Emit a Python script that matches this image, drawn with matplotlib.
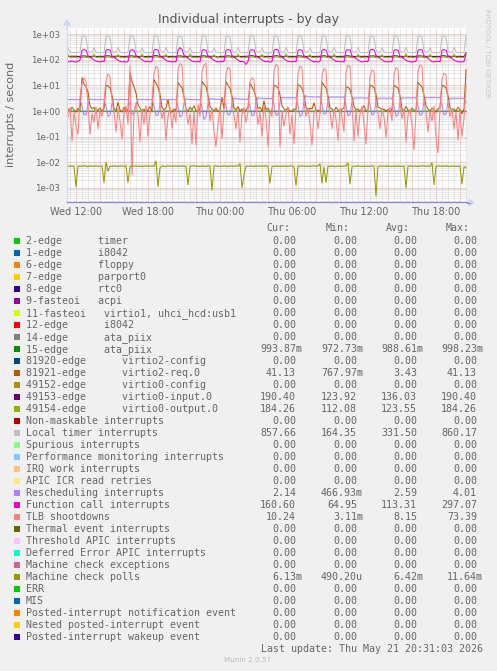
import numpy as np
import matplotlib
matplotlib.use('Agg')
import matplotlib.pyplot as plt
import matplotlib.transforms as mtransforms
from matplotlib.patches import Rectangle, Polygon
from matplotlib.ticker import FixedLocator, FuncFormatter, NullFormatter

# ---------------- data (10-minute samples starting Wed 11:20) ----------------
t_start = 11 + 20 / 60.0
t_step = 1 / 6.0

ata_piix_15 = [
    0.989, 0.991, 0.986, 0.990, 0.988, 0.992, 0.987,
    0.985, 0.982, 0.987, 0.990, 0.989, 0.991, 0.988, 0.990, 0.987, 0.992, 0.989, 0.990,
    0.984, 0.980, 0.988, 0.991, 0.990, 0.987, 0.989, 0.992, 0.988, 0.990, 0.986, 0.991,
    0.986, 0.983, 0.989, 0.990, 0.992, 0.988, 0.990, 0.987, 0.991, 0.989, 0.990, 0.988,
    0.983, 0.9727, 0.986, 0.989, 0.991, 0.990, 0.988, 0.992, 0.989, 0.987, 0.990, 0.991,
    0.985, 0.981, 0.988, 0.990, 0.989, 0.992, 0.987, 0.990, 0.991, 0.988, 0.989, 0.990,
    0.984, 0.982, 0.987, 0.991, 0.990, 0.988, 0.9982, 0.989, 0.987, 0.990, 0.992, 0.988,
    0.986, 0.980, 0.989, 0.990, 0.988, 0.991, 0.989, 0.987, 0.992, 0.990, 0.988, 0.991,
    0.985, 0.983, 0.988, 0.989, 0.992, 0.990, 0.987, 0.991, 0.989, 0.988, 0.990, 0.989,
    0.984, 0.981, 0.987, 0.990, 0.989, 0.991, 0.988, 0.992, 0.990, 0.987, 0.989, 0.991,
    0.986, 0.982, 0.989, 0.991, 0.988, 0.990, 0.989, 0.987, 0.991, 0.990, 0.988, 0.992,
    0.985, 0.980, 0.988, 0.990, 0.991, 0.989, 0.990, 0.988, 0.987, 0.992, 0.990, 0.989,
    0.983, 0.982, 0.987, 0.989, 0.990, 0.992, 0.988, 0.991, 0.989, 0.990, 0.987, 0.990,
    0.985, 0.981, 0.988, 0.991, 0.989, 0.988, 0.990, 0.992, 0.990, 0.989, 0.991, 0.988,
    0.984, 0.983, 0.986, 0.990, 0.992, 0.990, 0.987, 0.989, 0.991, 0.988, 0.990, 0.989,
    0.986, 0.980, 0.989, 0.990, 0.988, 0.991, 0.990, 0.987, 0.989, 0.992, 0.988, 0.990,
    0.985, 0.982, 0.987, 0.991, 0.990, 0.989, 0.988, 0.990, 0.991, 0.989, 0.987, 0.990,
    0.99387,
]

virtio2_req = [
    1.2, 0.95, 1.4, 1.1, 0.9, 1.3, 1.0,
    20, 11, 9, 5.5, 1.6, 1.2, 1.4, 0.9, 1.1, 1.3, 0.95, 1.2,
    10, 9.5, 8, 4, 1.3, 1.0, 2.2, 1.1, 0.9, 1.4, 1.0, 1.15,
    31, 14, 9, 5, 1.8, 1.3, 1.0, 1.2, 0.85, 1.1, 1.5, 1.0,
    17, 12, 8.5, 4.5, 1.4, 1.1, 1.3, 2.8, 1.0, 0.9, 1.2, 1.05,
    12.8, 10, 8, 3.5, 1.2, 1.0, 1.4, 1.1, 1.6, 1.0, 0.9, 1.3,
    14, 11, 9, 4, 1.5, 1.2, 1.0, 1.3, 0.95, 1.1, 3.5, 1.2,
    14, 10.5, 7.5, 3.8, 1.3, 1.1, 1.5, 1.0, 1.2, 0.9, 1.1, 1.4,
    12, 9, 6, 3.5, 1.2, 1.4, 1.0, 2.5, 1.1, 1.3, 0.9, 1.0,
    10, 9.5, 8, 4.2, 1.6, 1.2, 1.1, 1.3, 0.95, 1.0, 1.2, 1.1,
    10.6, 9.8, 7.5, 4, 1.4, 1.0, 1.3, 1.2, 2.1, 1.0, 1.1, 0.9,
    13, 10, 8, 3.8, 1.3, 1.2, 1.0, 1.4, 1.1, 0.9, 1.2, 1.3,
    8.5, 8.5, 7, 3.5, 1.5, 1.1, 1.2, 1.0, 1.3, 1.6, 1.0, 1.1,
    10, 9.5, 8.2, 4.5, 1.4, 1.3, 1.1, 1.2, 1.0, 1.15, 0.9, 1.2,
    10, 9, 7.8, 3.9, 1.2, 1.0, 1.5, 1.1, 0.95, 1.3, 1.1, 1.0,
    13, 10.5, 8.5, 4.2, 1.6, 1.2, 1.0, 1.3, 1.1, 0.9, 1.2, 1.4,
    10, 9.5, 8, 4, 1.3, 1.1, 1.2, 1.0, 1.4, 1.1, 0.77, 1.2,
    41.13,
]

virtio0_input = [
    136, 134, 138, 135, 137, 133, 136,
    139, 141, 138, 135, 134, 136, 137, 133, 135, 136, 134, 137,
    140, 142, 139, 134, 136, 135, 138, 134, 136, 133, 135, 136,
    138, 141, 137, 136, 133, 134, 137, 135, 132, 136, 134, 135,
    141, 143, 140, 135, 134, 137, 136, 133, 135, 134, 136, 133,
    139, 140, 138, 134, 135, 133, 138, 136, 134, 135, 133, 136,
    140, 142, 137, 136, 134, 135, 137, 134, 123.92, 135, 136, 134,
    138, 141, 139, 135, 136, 134, 136, 133, 135, 134, 135, 137,
    141, 143, 138, 134, 133, 136, 138, 135, 134, 136, 133, 135,
    139, 142, 140, 136, 135, 133, 137, 134, 136, 133, 135, 134,
    140, 141, 137, 135, 134, 136, 136, 133, 135, 134, 136, 135,
    138, 143, 139, 134, 136, 135, 138, 136, 133, 135, 134, 136,
    141, 142, 138, 136, 133, 134, 137, 135, 134, 136, 135, 133,
    139, 140, 140, 135, 134, 136, 136, 134, 135, 133, 136, 135,
    140, 142, 137, 134, 135, 133, 138, 133, 136, 135, 134, 136,
    138, 141, 139, 136, 134, 135, 137, 135, 133, 134, 135, 134,
    141, 143, 138, 135, 136, 134, 136, 134, 135, 136, 133, 135,
    190.40,
]

virtio0_output = [
    165, 121, 119, 122, 120, 118, 121,
    124, 126, 122, 120, 119, 121, 168, 122, 118, 120, 121, 119,
    125, 127, 123, 119, 121, 120, 162, 121, 119, 122, 118, 120,
    123, 126, 121, 121, 118, 119, 170, 120, 122, 119, 121, 118,
    126, 128, 124, 120, 119, 122, 165, 119, 121, 120, 118, 121,
    124, 125, 122, 118, 120, 119, 172, 122, 120, 121, 119, 120,
    125, 127, 121, 121, 119, 120, 160, 120, 118, 122, 120, 119,
    123, 126, 123, 119, 122, 118, 167, 121, 120, 119, 121, 122,
    126, 128, 122, 120, 119, 121, 164, 118, 121, 120, 112.08, 120,
    124, 127, 124, 121, 120, 119, 171, 122, 119, 121, 120, 118,
    125, 126, 122, 119, 121, 120, 163, 120, 122, 118, 121, 120,
    123, 128, 123, 120, 118, 122, 169, 121, 119, 120, 122, 119,
    126, 127, 121, 122, 120, 119, 166, 119, 121, 121, 118, 121,
    124, 125, 124, 118, 121, 120, 161, 122, 120, 119, 120, 122,
    125, 128, 122, 121, 119, 121, 173, 120, 118, 122, 121, 119,
    123, 126, 123, 120, 122, 118, 165, 121, 120, 119, 118, 121,
    126, 127, 121, 119, 120, 122, 168, 119, 122, 120, 121, 120,
    184.26,
]

local_timer = [
    292, 198, 188, 194, 186, 191, 196,
    840, 856, 720, 215, 199, 190, 298, 197, 189, 186, 193, 188,
    832, 852, 700, 230, 195, 188, 310, 200, 192, 185, 190, 194,
    845, 858, 690, 220, 198, 191, 295, 196, 187, 192, 184, 190,
    838, 860.17, 735, 240, 202, 189, 305, 199, 193, 188, 194, 186,
    829, 851, 710, 225, 197, 194, 300, 195, 190, 193, 185, 191,
    842, 857, 725, 218, 200, 187, 292, 201, 192, 187, 190, 195,
    836, 854, 705, 232, 196, 190, 312, 198, 189, 196, 186, 188,
    844, 859, 715, 226, 201, 195, 299, 194, 192, 164.35, 191, 189,
    831, 853, 730, 221, 198, 186, 303, 200, 188, 190, 195, 185,
    840, 858, 695, 235, 195, 192, 296, 196, 191, 186, 189, 193,
    837, 855, 740, 228, 203, 189, 308, 199, 195, 189, 187, 191,
    843, 860, 712, 219, 197, 194, 301, 197, 186, 192, 190, 188,
    834, 852, 722, 233, 199, 188, 294, 201, 194, 187, 193, 186,
    841, 857, 708, 224, 194, 193, 306, 198, 190, 185, 191, 196,
    838, 856, 728, 229, 202, 191, 298, 195, 192, 189, 186, 190,
    835, 854, 716, 222, 196, 187, 302, 200, 187, 194, 190, 192,
    857.66,
]

rescheduling = [
    2.8, 2.75, 2.9, 2.7, 2.85, 2.8, 2.7,
    1.6, 0.7, 0.75, 1.9, 2.9, 2.8, 2.75, 2.85, 2.7, 2.8, 2.9, 2.75,
    1.5, 0.62, 0.68, 2.0, 2.95, 2.8, 2.7, 2.8, 2.85, 2.75, 2.8, 2.7,
    1.7, 0.72, 0.8, 1.8, 2.85, 2.75, 2.8, 2.9, 2.7, 2.8, 2.75, 2.85,
    1.6, 0.66, 0.7, 1.9, 2.9, 2.85, 2.75, 2.8, 2.8, 2.7, 2.85, 2.8,
    1.5, 0.6, 0.65, 2.1, 3.0, 2.9, 2.8, 2.75, 2.85, 2.8, 2.7, 2.8,
    1.4, 0.467, 0.6, 1.9, 3.1, 3.0, 2.95, 2.85, 2.9, 2.8, 2.85, 2.9,
    1.6, 0.7, 0.74, 2.0, 3.2, 3.1, 3.0, 2.9, 2.95, 2.85, 2.9, 3.0,
    1.5, 0.65, 0.7, 2.2, 3.3, 3.2, 3.1, 3.15, 3.0, 3.1, 3.05, 3.2,
    1.7, 0.68, 0.72, 2.3, 3.4, 3.3, 3.25, 3.3, 3.2, 3.35, 3.3, 3.25,
    1.6, 0.62, 0.7, 2.4, 4.01, 3.6, 3.5, 3.55, 3.5, 3.45, 3.6, 3.5,
    1.8, 0.75, 0.8, 2.5, 3.6, 3.5, 3.45, 3.5, 3.55, 3.4, 3.5, 3.45,
    1.6, 0.66, 0.71, 2.3, 3.3, 3.2, 3.25, 3.2, 3.3, 3.15, 3.2, 3.25,
    1.7, 0.7, 0.76, 2.2, 3.2, 3.1, 3.15, 3.2, 3.1, 3.15, 3.2, 3.1,
    1.5, 0.63, 0.7, 2.3, 3.3, 3.25, 3.2, 3.3, 3.25, 3.2, 3.3, 3.25,
    1.6, 0.68, 0.73, 2.4, 3.4, 3.3, 3.35, 3.3, 3.4, 3.3, 3.35, 3.3,
    1.7, 0.71, 0.76, 2.2, 3.2, 3.1, 3.15, 3.2, 3.1, 3.2, 3.15, 3.1,
    2.14,
]

function_call = [
    86, 83, 89, 84, 81, 86, 96,
    228, 246, 235, 142, 124, 113, 97, 88, 84, 81, 87, 83,
    232, 250, 240, 138, 121, 110, 95, 86, 82, 85, 80, 84,
    225, 244, 230, 145, 127, 115, 99, 89, 83, 86, 82, 88,
    235, 252, 238, 140, 122, 111, 96, 85, 87, 81, 84, 82,
    240, 297.07, 245, 150, 128, 116, 98, 88, 84, 83, 86, 81,
    226, 247, 233, 137, 120, 109, 94, 87, 81, 85, 83, 86,
    231, 249, 239, 143, 125, 112, 97, 84, 86, 82, 64.95, 85,
    229, 245, 236, 141, 123, 114, 96, 88, 83, 87, 81, 84,
    234, 251, 241, 146, 126, 110, 95, 86, 84, 82, 85, 83,
    227, 248, 234, 139, 121, 113, 98, 89, 82, 86, 80, 87,
    233, 250, 237, 144, 124, 111, 97, 85, 87, 83, 84, 82,
    230, 246, 240, 140, 122, 115, 96, 88, 81, 85, 86, 84,
    236, 253, 238, 147, 127, 112, 99, 86, 83, 82, 84, 85,
    228, 247, 235, 138, 120, 110, 95, 87, 85, 81, 83, 86,
    232, 249, 242, 143, 125, 114, 97, 84, 82, 86, 85, 83,
    229, 248, 236, 141, 123, 112, 96, 88, 84, 83, 81, 85,
    160.60,
]

tlb_shootdowns = [
    0.6, 1.4, 0.066, 0.9, 0.25, 0.12, 3.5,
    12, 20, 14, 1.8, 0.12, 0.8, 0.35, 1.5, 0.2, 1.1, 0.6, 2.2,
    15, 28, 22, 2.5, 0.9, 0.15, 1.3, 0.4, 0.08, 0.9, 1.6, 0.3,
    60, 0.0031, 0.9, 2.1, 0.7, 0.06, 1.2, 0.3, 1.7, 0.1, 0.8, 2.4,
    30, 55, 48, 2.0, 0.5, 1.1, 0.07, 0.6, 1.4, 0.2, 0.9, 0.35,
    40, 70, 62, 3.0, 1.2, 0.3, 0.8, 0.05, 1.0, 0.045, 1.8, 0.6,
    35, 60, 73.39, 2.6, 0.4, 1.3, 0.15, 0.04, 0.3, 1.5, 0.08, 1.1,
    28, 50, 44, 1.9, 0.7, 0.2, 1.2, 0.06, 0.8, 1.4, 0.35, 0.9,
    14, 20, 16, 1.5, 0.3, 0.9, 0.1, 1.6, 0.5, 0.04, 1.0, 0.6,
    38, 65, 58, 0.04, 1.0, 0.25, 0.8, 1.5, 0.12, 0.7, 0.05, 1.3,
    30, 55, 50, 2.2, 0.6, 1.4, 0.3, 0.045, 0.9, 1.1, 0.2, 0.8,
    25, 45, 40, 1.8, 0.9, 0.2, 1.2, 0.5, 0.07, 1.3, 0.6, 0.15,
    34, 60, 55, 2.5, 0.066, 1.0, 0.1, 0.8, 1.5, 0.3, 0.05, 1.2,
    22, 40, 36, 1.7, 0.8, 0.2, 1.3, 0.6, 0.09, 0.9, 1.4, 0.4,
    27, 48, 44, 2.0, 0.5, 1.2, 0.06, 0.7, 1.1, 0.25, 0.03, 0.9,
    36, 62, 56, 2.3, 0.9, 0.15, 1.0, 0.4, 1.6, 0.08, 0.023, 1.2,
    18, 30, 26, 1.9, 0.6, 1.3, 0.2, 0.9, 0.07, 1.1, 0.1, 0.5,
    10.24,
]

machine_check_polls = [
    0.0071, 0.0069, 0.0073, 0.0068, 0.0011, 0.0070, 0.0072,
    0.0069, 0.0074, 0.0070, 0.0067, 0.0072, 0.0069, 0.0071, 0.0073, 0.0068, 0.0070, 0.0072, 0.0016,
    0.0105, 0.0045, 0.0071, 0.0069, 0.0073, 0.0070, 0.0068, 0.0072, 0.0071, 0.0069, 0.0074, 0.0016,
    0.0068, 0.0072, 0.0070, 0.0073, 0.0069, 0.0071, 0.0067, 0.0072, 0.0070, 0.0074, 0.0069, 0.0071,
    0.0070, 0.01164, 0.0011, 0.0062, 0.0072, 0.0070, 0.0068, 0.0073, 0.0071, 0.0069, 0.0072, 0.0070,
    0.0071, 0.0069, 0.0073, 0.0070, 0.0068, 0.0013, 0.0072, 0.0070, 0.0074, 0.0069, 0.0071, 0.0068,
    0.0072, 0.0070, 0.0069, 0.0073, 0.0071, 0.0008, 0.0070, 0.0072, 0.0068, 0.0071, 0.0069, 0.0073,
    0.0070, 0.0068, 0.0072, 0.0071, 0.0069, 0.0073, 0.0070, 0.0090, 0.0010, 0.0033, 0.0071, 0.0069,
    0.0072, 0.0070, 0.0068, 0.0073, 0.0071, 0.0069, 0.0072, 0.0070, 0.0074, 0.0068, 0.0015, 0.0070,
    0.0069, 0.0072, 0.0070, 0.0071, 0.0068, 0.0073, 0.0070, 0.0069, 0.0072, 0.0071, 0.0068, 0.0012,
    0.0071, 0.0070, 0.0073, 0.0069, 0.0072, 0.0068, 0.0071, 0.0070, 0.0074, 0.0069, 0.0072, 0.0088,
    0.0015, 0.0066, 0.0016, 0.0071, 0.0069, 0.0073, 0.0070, 0.0068, 0.0072, 0.0071, 0.0069, 0.0070,
    0.0072, 0.0095, 0.0014, 0.0067, 0.0071, 0.0069, 0.0073, 0.0070, 0.0068, 0.0072, 0.0071, 0.0069,
    0.0070, 0.0073, 0.0069, 0.00049, 0.0068, 0.0072, 0.0070, 0.0071, 0.0069, 0.0073, 0.0070, 0.0068,
    0.0071, 0.0069, 0.0072, 0.0070, 0.0068, 0.0073, 0.0010, 0.0070, 0.0072, 0.0069, 0.0071, 0.0070,
    0.0068, 0.0072, 0.0070, 0.0073, 0.0069, 0.0071, 0.0070, 0.0098, 0.0013, 0.0069, 0.0072, 0.0070,
    0.0071, 0.0069, 0.0073, 0.0070, 0.0068, 0.0072, 0.0071, 0.0069, 0.0070, 0.0073, 0.0014, 0.0068,
    0.00613,
]

# drawing order (munin draws in legend order)
plot_series = [
    (ata_piix_15, '#008F00'),
    (virtio2_req, '#B35A00'),
    (virtio0_input, '#6B006B'),
    (virtio0_output, '#8FB300'),
    (local_timer, '#BEBEBE'),
    (rescheduling, '#AA80FF'),
    (function_call, '#EE00CC'),
    (tlb_shootdowns, '#FF8080'),
    (machine_check_polls, '#999900'),
]

x_tick_hours = [12, 18, 24, 30, 36, 42]
x_tick_labels = ['Wed 12:00', 'Wed 18:00', 'Thu 00:00', 'Thu 06:00', 'Thu 12:00', 'Thu 18:00']
y_tick_values = [1e-3, 1e-2, 1e-1, 1e0, 1e1, 1e2, 1e3]
y_tick_labels = ['1e-03', '1e-02', '1e-01', '1e+00', '1e+01', '1e+02', '1e+03']

legend_labels = [
    '2-edge      timer', '1-edge      i8042', '6-edge      floppy', '7-edge      parport0',
    '8-edge      rtc0', '9-fasteoi   acpi', '11-fasteoi   virtio1, uhci_hcd:usb1',
    '12-edge      i8042', '14-edge      ata_piix', '15-edge      ata_piix',
    '81920-edge      virtio2-config', '81921-edge      virtio2-req.0',
    '49152-edge      virtio0-config', '49153-edge      virtio0-input.0',
    '49154-edge      virtio0-output.0', 'Non-maskable interrupts', 'Local timer interrupts',
    'Spurious interrupts', 'Performance monitoring interrupts', 'IRQ work interrupts',
    'APIC ICR read retries', 'Rescheduling interrupts', 'Function call interrupts',
    'TLB shootdowns', 'Thermal event interrupts', 'Threshold APIC interrupts',
    'Deferred Error APIC interrupts', 'Machine check exceptions', 'Machine check polls',
    'ERR', 'MIS', 'Posted-interrupt notification event', 'Nested posted-interrupt event',
    'Posted-interrupt wakeup event',
]
legend_colors = [
    '#00CC00', '#0066B3', '#FF8000', '#FFCC00', '#330099', '#990099', '#CCFF00', '#FF0000',
    '#808080', '#008F00', '#00487D', '#B35A00', '#B38F00', '#6B006B', '#8FB300', '#B30000',
    '#BEBEBE', '#80FF80', '#80C9FF', '#FFC080', '#FFE680', '#AA80FF', '#EE00CC', '#FF8080',
    '#666600', '#FFBFFF', '#00FFCC', '#CC6699', '#999900', '#00CC00', '#0066B3', '#FF8000',
    '#FFCC00', '#330099',
]
Z = '0.00'
cur_vals = [Z]*9 + ['993.87m', Z, '41.13', Z, '190.40', '184.26', Z, '857.66', Z, Z, Z, Z,
                    '2.14', '160.60', '10.24', Z, Z, Z, Z, '6.13m', Z, Z, Z, Z, Z]
min_vals = [Z]*9 + ['972.73m', Z, '767.97m', Z, '123.92', '112.08', Z, '164.35', Z, Z, Z, Z,
                    '466.93m', '64.95', '3.11m', Z, Z, Z, Z, '490.20u', Z, Z, Z, Z, Z]
avg_vals = [Z]*9 + ['988.61m', Z, '3.43', Z, '136.03', '123.55', Z, '331.50', Z, Z, Z, Z,
                    '2.59', '113.31', '8.15', Z, Z, Z, Z, '6.42m', Z, Z, Z, Z, Z]
max_vals = [Z]*9 + ['998.23m', Z, '41.13', Z, '190.40', '184.26', Z, '860.17', Z, Z, Z, Z,
                    '4.01', '297.07', '73.39', Z, Z, Z, Z, '11.64m', Z, Z, Z, Z, Z]

# ---------------- figure ----------------
W, H = 497, 671
DPI = 100
fig = plt.figure(figsize=(W / DPI, H / DPI), dpi=DPI, facecolor='#F0F0F0')
pix = mtransforms.Affine2D().scale(1.0 / W, -1.0 / H).translate(0, 1) + fig.transFigure

L, R, T, B = 67, 467, 28, 202.5
ax = fig.add_axes([L / W, 1 - B / H, (R - L) / W, (B - T) / H])
ax.set_facecolor('white')
ax.set_yscale('log')
ax.set_xlim(11.25, 44.583)
ax.set_ylim(10 ** -3.565, 10 ** 3.234)

FONT_COL = '#666666'
# grid
ax.xaxis.set_major_locator(FixedLocator(np.arange(12, 45, 2)))
ax.xaxis.set_minor_locator(FixedLocator(np.arange(11.5, 44.6, 0.5)))
lab_map = dict(zip(x_tick_hours, x_tick_labels))
ax.xaxis.set_major_formatter(FuncFormatter(lambda v, p: lab_map.get(int(round(v)), '')))
ax.xaxis.set_minor_formatter(NullFormatter())
ax.yaxis.set_major_locator(FixedLocator(y_tick_values))
ax.set_yticklabels(y_tick_labels)
minor_y = [m * 10.0 ** e for e in range(-4, 4) for m in range(2, 10)]
ax.yaxis.set_minor_locator(FixedLocator(minor_y))
ax.yaxis.set_minor_formatter(NullFormatter())

ax.set_axisbelow(True)
ax.grid(which='minor', color='#D2D2D2', linestyle=(0, (1, 1)), linewidth=0.72)
ax.grid(which='major', color='#DCA4A4', linestyle=(0, (1, 1)), linewidth=0.72)

ax.tick_params(which='both', length=0)
ax.tick_params(axis='y', labelsize=6.2, labelcolor=FONT_COL, pad=5)
ax.tick_params(axis='x', labelsize=7, labelcolor=FONT_COL, pad=3.5)

for s in ['top', 'right']:
    ax.spines[s].set_visible(False)
ax.spines['left'].set_color('#CFD6F8')
ax.spines['left'].set_linewidth(0.9)
ax.spines['bottom'].set_color('#8C86D8')
ax.spines['bottom'].set_linewidth(0.9)

# data
for vals, col in plot_series:
    v = np.asarray(vals, dtype=float)
    t = t_start + np.arange(len(v)) * t_step
    ax.plot(t, v, color=col, linewidth=0.75, solid_joinstyle='miter')

# axis arrows
fig.lines.append(plt.Line2D([L, L], [T, 23], color='#CFD6F8', linewidth=0.9, transform=pix))
fig.lines.append(plt.Line2D([R, 470], [B, B], color='#8C86D8', linewidth=0.9, transform=pix))
fig.patches.append(Polygon([(64, 25), (70, 25), (67, 20)], closed=True, color='#CFD6F8', transform=pix))
fig.patches.append(Polygon([(469, 199.5), (469, 205.5), (474, 202.5)], closed=True, color='#CFD6F8', transform=pix))

# titles
fig.text(248.5, 19, 'Individual interrupts - by day', transform=pix, ha='center', va='center',
         fontsize=9, color='#555555', family='DejaVu Sans')
fig.text(11, 114, 'interrupts / second', transform=pix, ha='center', va='center', rotation=90,
         fontsize=8, color=FONT_COL, family='DejaVu Sans')
fig.text(487, 53, 'RRDTOOL / TOBI OETIKER', transform=pix, ha='center', va='center', rotation=270,
         fontsize=5, color='#C8C8C8', family='DejaVu Sans')

# legend
mono = dict(family='DejaVu Sans Mono', fontsize=7.2, color=FONT_COL)
hdr_y = 227 + 3.6
for txt, xr in zip(['Cur:', 'Min:', 'Avg:', 'Max:'], [290, 350, 410, 470]):
    fig.text(xr, hdr_y, txt, transform=pix, ha='right', va='baseline', **mono)

col_right = [296, 357, 417, 477]
for i, (lab, col) in enumerate(zip(legend_labels, legend_colors)):
    yc = 240 + 12 * i
    fig.patches.append(Rectangle((14, yc - 2.5), 6, 6, facecolor=col, edgecolor='none', transform=pix))
    fig.text(26, yc + 3.6, lab, transform=pix, ha='left', va='baseline', **mono)
    for vals, xr in zip([cur_vals, min_vals, avg_vals, max_vals], col_right):
        s = vals[i]
        if s[-1].isalpha():
            fig.text(xr + 6, yc + 3.6, s, transform=pix, ha='right', va='baseline', **mono)
        else:
            fig.text(xr, yc + 3.6, s, transform=pix, ha='right', va='baseline', **mono)

fig.text(483, 648 + 3.6, 'Last update: Thu May 21 20:31:03 2026', transform=pix, ha='right',
         va='baseline', **mono)
fig.text(248, 660, 'Munin 2.0.57', transform=pix, ha='center', va='center', fontsize=5.2,
         color='#BBBBBB', family='DejaVu Sans')

fig.savefig('out.png', dpi=DPI, facecolor=fig.get_facecolor())
